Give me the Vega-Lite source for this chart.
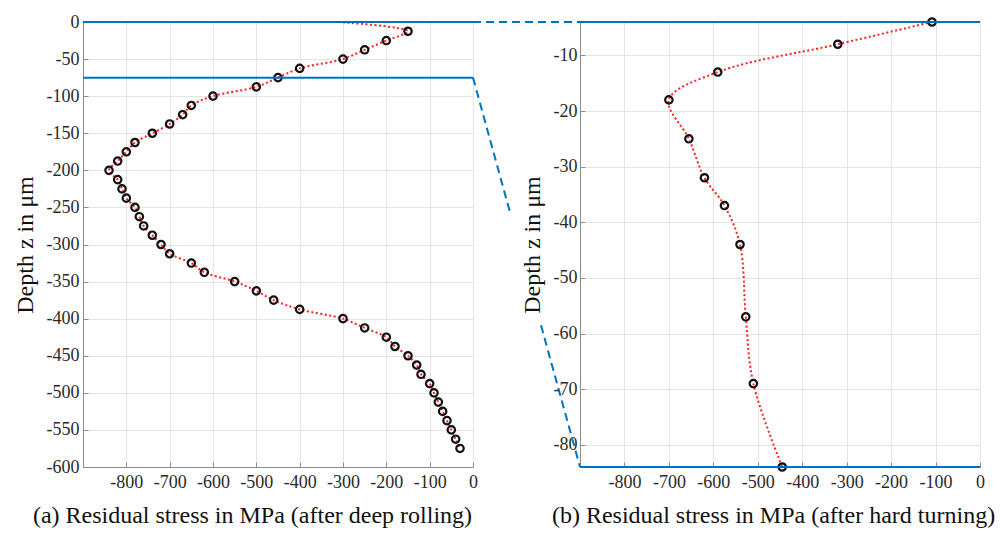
{
  "$schema": "https://vega.github.io/schema/vega-lite/v6.json",
  "padding": {"left": 12, "top": 12, "right": 0, "bottom": 0},
  "background": "white",
  "bounds": "flush",
  "spacing": 107,
  "config": {
    "font": "Liberation Serif",
    "view": {"stroke": "#8c8c8c", "strokeWidth": 1},
    "axis": {
      "grid": true,
      "gridColor": "#e4e4e4",
      "domainColor": "#8c8c8c",
      "tickColor": "#8c8c8c",
      "tickSize": -5,
      "labelPadding": 11,
      "labelFlush": false,
      "labelFont": "Liberation Serif",
      "labelFontSize": 18,
      "labelColor": "#2a2a2a",
      "labelExpr": "'' + datum.value",
      "titleFont": "Liberation Serif",
      "titleFontWeight": "normal",
      "titleFontSize": 24,
      "titleColor": "#111111"
    }
  },
  "datasets": {
    "deep_rolling": [
      {"stress": -310, "depth": 0, "measured": false},
      {"stress": -150, "depth": -12.5, "measured": true},
      {"stress": -200, "depth": -25, "measured": true},
      {"stress": -250, "depth": -37.5, "measured": true},
      {"stress": -300, "depth": -50, "measured": true},
      {"stress": -400, "depth": -62.5, "measured": true},
      {"stress": -450, "depth": -75, "measured": true},
      {"stress": -500, "depth": -87.5, "measured": true},
      {"stress": -600, "depth": -100, "measured": true},
      {"stress": -650, "depth": -112.5, "measured": true},
      {"stress": -670, "depth": -125, "measured": true},
      {"stress": -700, "depth": -137.5, "measured": true},
      {"stress": -740, "depth": -150, "measured": true},
      {"stress": -780, "depth": -162.5, "measured": true},
      {"stress": -800, "depth": -175, "measured": true},
      {"stress": -820, "depth": -187.5, "measured": true},
      {"stress": -840, "depth": -200, "measured": true},
      {"stress": -820, "depth": -212.5, "measured": true},
      {"stress": -810, "depth": -225, "measured": true},
      {"stress": -800, "depth": -237.5, "measured": true},
      {"stress": -780, "depth": -250, "measured": true},
      {"stress": -770, "depth": -262.5, "measured": true},
      {"stress": -760, "depth": -275, "measured": true},
      {"stress": -740, "depth": -287.5, "measured": true},
      {"stress": -720, "depth": -300, "measured": true},
      {"stress": -700, "depth": -312.5, "measured": true},
      {"stress": -650, "depth": -325, "measured": true},
      {"stress": -620, "depth": -337.5, "measured": true},
      {"stress": -550, "depth": -350, "measured": true},
      {"stress": -500, "depth": -362.5, "measured": true},
      {"stress": -460, "depth": -375, "measured": true},
      {"stress": -400, "depth": -387.5, "measured": true},
      {"stress": -300, "depth": -400, "measured": true},
      {"stress": -250, "depth": -412.5, "measured": true},
      {"stress": -200, "depth": -425, "measured": true},
      {"stress": -180, "depth": -437.5, "measured": true},
      {"stress": -150, "depth": -450, "measured": true},
      {"stress": -130, "depth": -462.5, "measured": true},
      {"stress": -120, "depth": -475, "measured": true},
      {"stress": -100, "depth": -487.5, "measured": true},
      {"stress": -90, "depth": -500, "measured": true},
      {"stress": -80, "depth": -512.5, "measured": true},
      {"stress": -70, "depth": -525, "measured": true},
      {"stress": -60, "depth": -537.5, "measured": true},
      {"stress": -50, "depth": -550, "measured": true},
      {"stress": -40, "depth": -562.5, "measured": true},
      {"stress": -30, "depth": -575, "measured": true}
    ],
    "hard_turning": [
      {"stress": -108, "depth": -4},
      {"stress": -320, "depth": -8},
      {"stress": -590, "depth": -13},
      {"stress": -700, "depth": -18},
      {"stress": -655, "depth": -25},
      {"stress": -620, "depth": -32},
      {"stress": -575, "depth": -37},
      {"stress": -540, "depth": -44},
      {"stress": -527, "depth": -57},
      {"stress": -510, "depth": -69},
      {"stress": -445, "depth": -84}
    ],
    "zoom_lines_a": [
      {"x1": -900, "x2": 0, "y1": 0, "y2": 0, "style": "solid"},
      {"x1": -900, "x2": 0, "y1": -75, "y2": -75, "style": "solid"},
      {"x1": 0, "x2": 247, "y1": 0, "y2": 0, "style": "dashed"},
      {"x1": 0, "x2": 85.4, "y1": -75, "y2": -256.6, "style": "dashed"},
      {"x1": 157, "x2": 247, "y1": -409, "y2": -600, "style": "dashed"}
    ],
    "zoom_lines_b": [
      {"x1": -900, "x2": 0, "y1": -4, "y2": -4},
      {"x1": -900, "x2": 0, "y1": -84, "y2": -84}
    ]
  },
  "hconcat": [
    {
      "width": 390,
      "height": 445,
      "encoding": {
        "x": {
          "field": "stress", "type": "quantitative",
          "scale": {"domain": [-900, 0], "nice": false, "zero": false},
          "axis": {
            "values": [-800, -700, -600, -500, -400, -300, -200, -100, 0],
            "title": "(a) Residual stress in MPa (after deep rolling)",
            "titleX": 169, "titleAlign": "center", "titlePadding": 12
          }
        },
        "y": {
          "field": "depth", "type": "quantitative",
          "scale": {"domain": [-600, 0], "nice": false, "zero": false},
          "axis": {
            "values": [-600, -550, -500, -450, -400, -350, -300, -250, -200, -150, -100, -50, 0],
            "labelPadding": 9,
            "title": "Depth z in μm",
            "titlePadding": 9
          }
        }
      },
      "layer": [
        {
          "data": {"name": "deep_rolling"},
          "mark": {"type": "line", "interpolate": "catmull-rom", "color": "#ff2020", "strokeWidth": 2, "strokeDash": [2, 2.5]},
          "encoding": {"order": {"field": "depth", "sort": "descending"}}
        },
        {
          "data": {"name": "deep_rolling"},
          "transform": [{"filter": "datum.measured"}],
          "mark": {"type": "point", "shape": "circle", "filled": false, "color": "#111111", "size": 55, "strokeWidth": 2.2, "opacity": 1}
        },
        {
          "data": {"name": "zoom_lines_a"},
          "transform": [{"filter": "datum.style == 'solid'"}],
          "mark": {"type": "rule", "color": "#0072BD", "strokeWidth": 2, "clip": false},
          "encoding": {
            "x": {"field": "x1", "type": "quantitative"},
            "x2": {"field": "x2"},
            "y": {"field": "y1", "type": "quantitative"},
            "y2": {"field": "y2"}
          }
        },
        {
          "data": {"name": "zoom_lines_a"},
          "transform": [{"filter": "datum.style == 'dashed'"}],
          "mark": {"type": "rule", "color": "#0072BD", "strokeWidth": 2, "strokeDash": [8, 5], "clip": false},
          "encoding": {
            "x": {"field": "x1", "type": "quantitative"},
            "x2": {"field": "x2"},
            "y": {"field": "y1", "type": "quantitative"},
            "y2": {"field": "y2"}
          }
        }
      ]
    },
    {
      "width": 400,
      "height": 445,
      "encoding": {
        "x": {
          "field": "stress", "type": "quantitative",
          "scale": {"domain": [-900, 0], "nice": false, "zero": false},
          "axis": {
            "values": [-800, -700, -600, -500, -400, -300, -200, -100, 0],
            "title": "(b) Residual stress in MPa (after hard turning)",
            "titleX": 193, "titleAlign": "center", "titlePadding": 12
          }
        },
        "y": {
          "field": "depth", "type": "quantitative",
          "scale": {"domain": [-84, -4], "nice": false, "zero": false},
          "axis": {
            "values": [-80, -70, -60, -50, -40, -30, -20, -10],
            "labelPadding": 8,
            "title": "Depth z in μm",
            "titlePadding": 9
          }
        }
      },
      "layer": [
        {
          "data": {"name": "hard_turning"},
          "mark": {"type": "line", "interpolate": "catmull-rom", "color": "#ff2020", "strokeWidth": 2, "strokeDash": [2, 2.5]},
          "encoding": {"order": {"field": "depth", "sort": "descending"}}
        },
        {
          "data": {"name": "hard_turning"},
          "mark": {"type": "point", "shape": "circle", "filled": false, "color": "#111111", "size": 55, "strokeWidth": 2.2, "opacity": 1}
        },
        {
          "data": {"name": "zoom_lines_b"},
          "mark": {"type": "rule", "color": "#0072BD", "strokeWidth": 2, "clip": false},
          "encoding": {
            "x": {"field": "x1", "type": "quantitative"},
            "x2": {"field": "x2"},
            "y": {"field": "y1", "type": "quantitative"},
            "y2": {"field": "y2"}
          }
        }
      ]
    }
  ]
}
